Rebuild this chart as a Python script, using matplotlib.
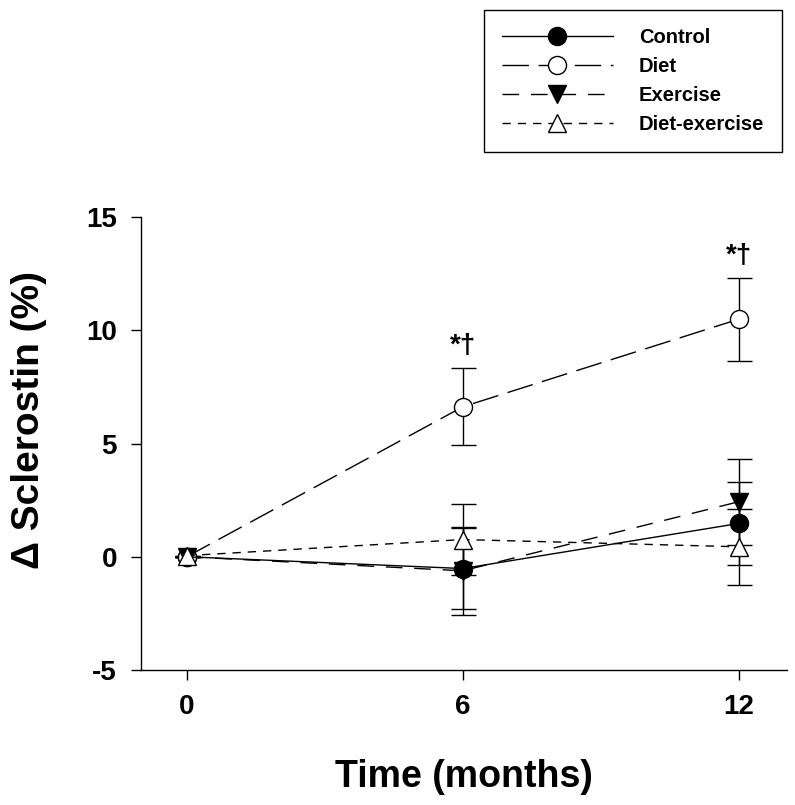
import numpy as np
import matplotlib
matplotlib.use("Agg")
from matplotlib import pyplot as plt

plt.rcParams['font.family'] = ['Liberation Sans', 'DejaVu Sans']
plt.rcParams['font.weight'] = 'bold'
plt.rcParams['axes.unicode_minus'] = False

months = [0, 6, 12]
groups = ["Control", "Diet", "Exercise", "Diet-exercise"]

control = [0.0, -0.52, 1.47]
control_se = [0.0, 1.8, 1.84]
diet = [0.0, 6.62, 10.49]
diet_se = [0.0, 1.7, 1.83]
exercise = [0.0, -0.62, 2.43]
exercise_se = [0.0, 1.95, 1.9]
diet_ex = [0.05, 0.76, 0.44]
diet_ex_se = [0.0, 1.56, 1.69]

# significance marks (month index, text) for the diet group
sig_idx = [1, 2]
sig_text = "*\u2020"

fig = plt.figure(figsize=(7.95, 8.05), dpi=100)
ax = fig.add_axes([0.177, 0.1677, 0.813, 0.5627])

styles = [
    (control, control_se, "o", "black", (None, None), "-"),
    (diet, diet_se, "o", "white", (19, 7), "--"),
    (exercise, exercise_se, "v", "black", (12, 8.5), "--"),
    (diet_ex, diet_ex_se, "^", "white", (6, 5), "--"),
]

for name, (vals, se, mk, fc, dash, ls) in zip(groups, styles):
    ax.errorbar(months, vals, yerr=se, fmt="none", ecolor="black",
                elinewidth=1.0, capsize=9, capthick=1.0, zorder=2)
    line, = ax.plot(months, vals, color="black", lw=1.0, linestyle=ls,
                    marker=mk, markersize=13, markerfacecolor=fc,
                    markeredgecolor="black", markeredgewidth=1.0,
                    label=name, zorder=3)
    if ls == "--":
        line.set_dashes(dash)

for i in sig_idx:
    ax.text(months[i], diet[i] + diet_se[i] + 0.4, sig_text, ha="center",
            va="bottom", fontsize=20, fontweight="bold")

ax.set_xlim(-1, 13.05)
ax.set_ylim(-5, 15)
ax.set_xticks(months)
ax.set_yticks([-5, 0, 5, 10, 15])
ax.tick_params(direction="out", length=7, width=1, labelsize=20, pad=10)
for s in ["top", "right"]:
    ax.spines[s].set_visible(False)
for s in ["left", "bottom"]:
    ax.spines[s].set_linewidth(1.0)

ax.set_xlabel("Time (months)", fontsize=27, fontweight="bold")
ax.set_ylabel("\u0394 Sclerostin (%)", fontsize=28, fontweight="bold")
ax.xaxis.set_label_coords(0.5, -0.197)
ax.yaxis.set_label_coords(-0.145, 0.552)

leg = fig.legend(loc="upper right", bbox_to_anchor=(0.984, 0.9876),
                 fontsize=14.5, handlelength=5.5, handletextpad=1.3,
                 labelspacing=0.5, borderpad=0.9, borderaxespad=0,
                 fancybox=False, framealpha=1, edgecolor="black")
leg.get_frame().set_linewidth(1.0)

fig.savefig("out.png", dpi=100)
